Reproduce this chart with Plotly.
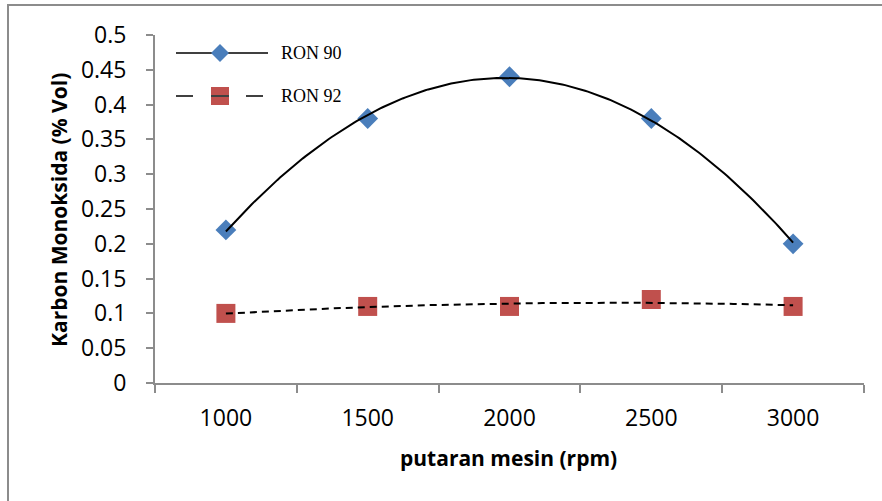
import numpy as np
import plotly.graph_objects as go

# ---- data ----
categories = ["1000", "1500", "2000", "2500", "3000"]
ron90 = [0.22, 0.38, 0.44, 0.38, 0.20]
ron92 = [0.10, 0.11, 0.11, 0.12, 0.11]
y_ticks = [0, 0.05, 0.1, 0.15, 0.2, 0.25, 0.3, 0.35, 0.4, 0.45, 0.5]
series_names = ["RON 90", "RON 92"]

W, H = 882, 501
L, R, T, B = 155, 18, 35, 118
PW, PH = W - L - R, H - T - B


def px(x):
    return (x - L) / PW


def py(y):
    return (H - B - y) / PH


xi = np.arange(1, len(categories) + 1)
xf = np.linspace(1, len(categories), 200)

fig = go.Figure()

# markers
fig.add_trace(go.Scatter(x=xi, y=ron90, mode="markers", name=series_names[0],
                         marker=dict(symbol="diamond", size=16, color="#4A7EBB",
                                     line=dict(width=0)), showlegend=False))
fig.add_trace(go.Scatter(x=xi, y=ron92, mode="markers", name=series_names[1],
                         marker=dict(symbol="square", size=19, color="#C0504D",
                                     line=dict(width=0)), showlegend=False))

# polynomial (order 2) trendlines computed from the data
c90 = np.polyfit(xi, ron90, 2)
c92 = np.polyfit(xi, ron92, 2)
fig.add_trace(go.Scatter(x=xf, y=np.polyval(c90, xf), mode="lines",
                         line=dict(color="black", width=2), showlegend=False,
                         hoverinfo="skip"))
fig.add_trace(go.Scatter(x=xf, y=np.polyval(c92, xf), mode="lines",
                         line=dict(color="black", width=2, dash="7px,5px"),
                         showlegend=False, hoverinfo="skip"))

shapes = []
# outer chart border
shapes.append(dict(type="rect", xref="paper", yref="paper",
                   x0=px(8), x1=px(W + 20), y0=py(H + 20), y1=py(5),
                   line=dict(color="#8C8C8C", width=2), fillcolor="rgba(0,0,0,0)",
                   layer="below"))

# custom legend
leg_y = [53, 96]
# row 1: solid line
shapes.append(dict(type="line", xref="paper", yref="paper",
                   x0=px(176), x1=px(268), y0=py(leg_y[0]), y1=py(leg_y[0]),
                   line=dict(color="#404040", width=2)))
shapes.append(dict(type="path", xref="paper", yref="paper",
                   xsizemode="pixel", ysizemode="pixel",
                   xanchor=px(220), yanchor=py(leg_y[0]),
                   path="M -9 0 L 0 9 L 9 0 L 0 -9 Z",
                   fillcolor="#4A7EBB", line=dict(width=0)))
# row 2: dashed line
shapes.append(dict(type="line", xref="paper", yref="paper",
                   x0=px(176), x1=px(268), y0=py(leg_y[1]), y1=py(leg_y[1]),
                   line=dict(color="#404040", width=2, dash="17px,18px")))
shapes.append(dict(type="path", xref="paper", yref="paper",
                   xsizemode="pixel", ysizemode="pixel",
                   xanchor=px(220), yanchor=py(leg_y[1]),
                   path="M -9 -9 L 9 -9 L 9 9 L -9 9 Z",
                   fillcolor="#C0504D", line=dict(width=0)))
shapes.append(dict(type="line", xref="paper", yref="paper",
                   x0=px(211), x1=px(229), y0=py(leg_y[1]), y1=py(leg_y[1]),
                   line=dict(color="#404040", width=2)))

annotations = []
for name, yy in zip(series_names, leg_y):
    annotations.append(dict(text=name, xref="paper", yref="paper",
                            x=px(279), y=py(yy), xanchor="left", yanchor="middle",
                            showarrow=False,
                            font=dict(family="Liberation Serif", size=18, color="black")))

annotations.append(dict(text="<b>putaran mesin (rpm)</b>", xref="paper", yref="paper",
                        x=px(508), y=py(458), xanchor="center", yanchor="middle",
                        showarrow=False,
                        font=dict(family="Open Sans", size=21, color="black")))
annotations.append(dict(text="<b>Karbon Monoksida (% Vol)</b>", xref="paper", yref="paper",
                        x=px(59), y=py(210), xanchor="center", yanchor="middle",
                        textangle=-90, showarrow=False,
                        font=dict(family="Open Sans", size=21, color="black")))

axis_col = "#8C8C8C"
fig.update_layout(
    width=W, height=H,
    margin=dict(l=L, r=R, t=T, b=B),
    paper_bgcolor="white", plot_bgcolor="white",
    showlegend=False,
    shapes=shapes, annotations=annotations,
    font=dict(family="Open Sans", color="black"),
    xaxis=dict(range=[0.5, len(categories) + 0.5], tickmode="array",
               tickvals=xi, ticktext=categories, ticks="",
               showgrid=False, zeroline=False, showline=True,
               linecolor=axis_col, linewidth=2,
               tickfont=dict(family="Open Sans", size=23, color="black"),
               ticklabelstandoff=13,
               minor=dict(tickvals=list(np.arange(0.5, len(categories) + 1, 1.0)),
                          ticks="outside", ticklen=8, tickcolor=axis_col, tickwidth=2,
                          showgrid=False)),
    yaxis=dict(range=[0, 0.5], tickmode="array", tickvals=y_ticks,
               ticktext=[f"{v:g}" for v in y_ticks],
               ticks="outside", ticklen=7, tickcolor=axis_col, tickwidth=2,
               showgrid=False, zeroline=False, showline=True,
               linecolor=axis_col, linewidth=2,
               tickfont=dict(family="Open Sans", size=23, color="black"),
               ticklabelstandoff=15),
)

fig.write_html("out.html")
